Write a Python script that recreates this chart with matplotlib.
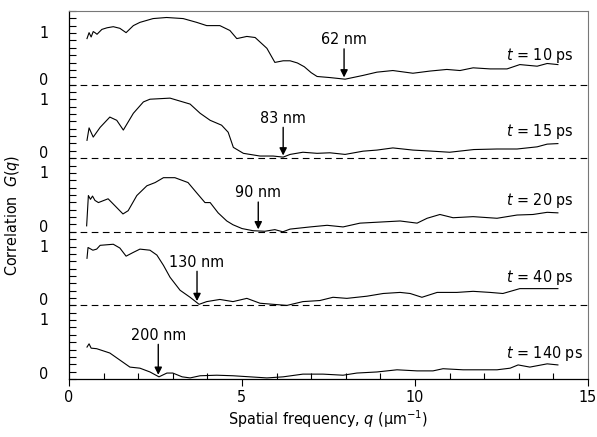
import numpy as np
import matplotlib
matplotlib.use('Agg')
import matplotlib.pyplot as plt
from matplotlib import font_manager
from matplotlib.ticker import MultipleLocator

# G(q) per delay time
q10 = [0.52, 0.58, 0.64, 0.70, 0.75, 0.81, 0.95, 1.10, 1.28, 1.47, 1.65, 1.86, 2.05, 2.43, 2.82, 3.30, 3.69,
       3.98, 4.36, 4.65, 4.85, 5.14, 5.38, 5.72, 5.95, 6.19, 6.39, 6.60, 6.80, 7.00, 7.17, 7.54, 7.98, 8.50,
       8.90, 9.36, 9.94, 10.43, 10.92, 11.30, 11.68, 12.17, 12.66, 13.03, 13.53, 13.82, 14.13]
g10 = [0.85, 0.96, 0.88, 0.98, 0.96, 0.93, 1.02, 1.05, 1.07, 1.04, 0.96, 1.09, 1.15, 1.22, 1.24, 1.22, 1.15,
       1.09, 1.09, 1.00, 0.85, 0.89, 0.87, 0.67, 0.41, 0.44, 0.44, 0.40, 0.33, 0.22, 0.15, 0.13, 0.10, 0.17,
       0.23, 0.26, 0.21, 0.25, 0.28, 0.26, 0.31, 0.29, 0.29, 0.37, 0.34, 0.39, 0.37]

q15 = [0.52, 0.58, 0.70, 0.90, 1.18, 1.38, 1.57, 1.86, 2.15, 2.34, 2.92, 3.50, 3.79, 4.08, 4.41, 4.60, 4.75,
       5.04, 5.52, 5.90, 6.19, 6.39, 6.76, 7.17, 7.54, 7.98, 8.50, 8.90, 9.36, 9.94, 10.50, 11.00, 11.70,
       12.37, 12.95, 13.53, 13.82, 14.13]
g15 = [0.33, 0.56, 0.39, 0.57, 0.76, 0.70, 0.52, 0.83, 1.04, 1.09, 1.11, 1.00, 0.83, 0.70, 0.61, 0.48, 0.20,
       0.09, 0.04, 0.04, 0.02, 0.07, 0.11, 0.09, 0.10, 0.07, 0.13, 0.15, 0.19, 0.15, 0.13, 0.11, 0.16,
       0.17, 0.17, 0.21, 0.26, 0.27]

q20 = [0.51, 0.56, 0.62, 0.68, 0.75, 0.85, 1.13, 1.33, 1.56, 1.71, 1.96, 2.25, 2.49, 2.73, 3.06, 3.44, 3.69,
       3.93, 4.08, 4.31, 4.56, 4.74, 5.00, 5.32, 5.66, 5.95, 6.18, 6.39, 6.97, 7.46, 7.92, 8.41, 8.99, 9.57,
       10.06, 10.35, 10.72, 11.10, 11.68, 12.37, 12.95, 13.41, 13.82, 14.13]
g20 = [0.11, 0.67, 0.60, 0.66, 0.58, 0.54, 0.61, 0.48, 0.33, 0.39, 0.67, 0.85, 0.91, 1.00, 1.00, 0.91, 0.72,
       0.54, 0.54, 0.35, 0.20, 0.13, 0.06, 0.02, 0.01, 0.04, 0.00, 0.05, 0.09, 0.12, 0.09, 0.16, 0.18, 0.20,
       0.16, 0.25, 0.32, 0.26, 0.28, 0.25, 0.31, 0.32, 0.36, 0.35]

q40 = [0.52, 0.55, 0.69, 0.80, 0.90, 1.28, 1.47, 1.65, 1.86, 2.05, 2.34, 2.54, 2.73, 2.92, 3.21, 3.50, 3.76,
       3.98, 4.36, 4.74, 5.14, 5.52, 5.90, 6.30, 6.76, 7.25, 7.63, 8.03, 8.61, 9.08, 9.57, 9.86, 10.20,
       10.64, 11.21, 11.68, 12.17, 12.54, 13.03, 13.53, 14.13]
g40 = [0.87, 1.07, 1.02, 1.04, 1.11, 1.13, 1.06, 0.91, 0.98, 1.04, 1.02, 0.93, 0.74, 0.52, 0.28, 0.15, 0.02,
       0.07, 0.11, 0.07, 0.13, 0.04, 0.02, 0.00, 0.07, 0.09, 0.15, 0.13, 0.17, 0.22, 0.24, 0.22, 0.15,
       0.24, 0.24, 0.26, 0.24, 0.22, 0.31, 0.31, 0.31]

q140 = [0.52, 0.58, 0.64, 0.80, 0.99, 1.18, 1.47, 1.76, 2.05, 2.34, 2.60, 2.83, 3.00, 3.27, 3.50, 3.79, 4.27,
        4.74, 5.23, 5.72, 6.19, 6.76, 7.34, 7.92, 8.32, 8.90, 9.48, 10.06, 10.52, 10.81, 11.39, 11.97, 12.37,
        12.75, 12.98, 13.32, 13.82, 14.13]
g140 = [0.59, 0.65, 0.57, 0.56, 0.52, 0.48, 0.35, 0.22, 0.20, 0.13, 0.04, 0.11, 0.11, 0.04, 0.02, 0.06, 0.07,
        0.06, 0.04, 0.02, 0.04, 0.09, 0.09, 0.07, 0.11, 0.13, 0.17, 0.15, 0.15, 0.19, 0.17, 0.17, 0.17,
        0.20, 0.26, 0.22, 0.28, 0.26]

times = ['10', '15', '20', '40', '140']
curves = [(q10, g10), (q15, g15), (q20, g20), (q40, g40), (q140, g140)]
min_q = [7.95, 6.19, 5.47, 3.70, 2.58]
min_labels = ['62 nm', '83 nm', '90 nm', '130 nm', '200 nm']

# annotation placement (in panel units)
min_text_y = [0.83, 0.74, 0.72, 0.80, 0.81]
time_text_y = [0.54, 0.49, 0.57, 0.52, 0.48]

H = 1.36  # height of one panel


def pick_narrow_font():
    # look for a condensed sans face, the reference uses one
    for f in font_manager.fontManager.ttflist:
        fn = f.fname.lower()
        if ('narrow' in fn or 'condensed' in fn) and 'sans' in fn and f.style == 'normal' \
                and f.weight in (400, 'normal', 'regular'):
            return f.name, f.stretch, True
    return 'Liberation Sans', 'normal', False


fam, stretch, narrow = pick_narrow_font()
fs = 11.5 if narrow else 10.5
plt.rcParams['font.family'] = [fam, 'DejaVu Sans']
plt.rcParams['font.stretch'] = stretch
plt.rcParams['mathtext.fontset'] = 'custom'
plt.rcParams['mathtext.it'] = fam + ':italic'
plt.rcParams['mathtext.rm'] = fam
plt.rcParams['font.size'] = fs

fig = plt.figure(figsize=(5.97, 4.37), dpi=100)
ax = fig.add_axes([69 / 597, 58 / 437, 519 / 597, 368 / 437])

n = len(curves)
for i, ((q, g), t, mq, ml, my, ty) in enumerate(zip(curves, times, min_q, min_labels, min_text_y, time_text_y)):
    off = (n - 1 - i) * H
    ax.plot(q, np.array(g) + off, color='black', lw=0.8)
    if i < n - 1:
        ax.axhline(off, color='black', lw=0.8, ls=(0, (6, 4)))
    ax.text(12.62, off + ty, r'$t$ = %s ps' % t, ha='left', va='center')
    ax.text(mq, off + my, ml, ha='center', va='center')
    tip = np.interp(mq, q, g) + 0.03
    ax.annotate('', xy=(mq, off + tip), xytext=(mq, off + my - 0.17),
                arrowprops=dict(arrowstyle='-|>', color='black', lw=1.0, mutation_scale=11,
                                shrinkA=0, shrinkB=0))

ax.set_xlim(0, 15)
ax.set_ylim(0, n * H)

ax.set_xticks([0, 5, 10, 15])
ax.xaxis.set_minor_locator(MultipleLocator(1))
ax.tick_params(axis='x', which='major', direction='out', length=5, width=0.8, pad=3)
ax.tick_params(axis='x', which='minor', direction='in', length=4, width=0.8)

ytick_pos = []
ytick_lab = []
for k in range(n):
    top_one = 0.97 if k == n - 1 else 1.1
    ytick_pos += [k * H + 0.11, k * H + top_one]
    ytick_lab += ['0', '1']
ax.set_yticks(ytick_pos)
ax.set_yticklabels(ytick_lab)
ax.tick_params(axis='y', which='major', length=0, pad=15)
ax.yaxis.set_minor_locator(MultipleLocator(H / 10))
ax.tick_params(axis='y', which='minor', direction='in', length=5, width=0.8)

for s in ['top', 'right']:
    ax.spines[s].set_color('#777777')
ax.spines['left'].set_linewidth(0.9)
ax.spines['bottom'].set_linewidth(0.9)

ax.set_xlabel(r'Spatial frequency, $q$ (μm$^{-1}$)')
ax.xaxis.set_label_coords(0.5, -0.08)
ax.set_ylabel(r'Correlation  $G(q)$')
ax.yaxis.set_label_coords(-0.09, 0.445)

fig.savefig('out.png', dpi=100)
